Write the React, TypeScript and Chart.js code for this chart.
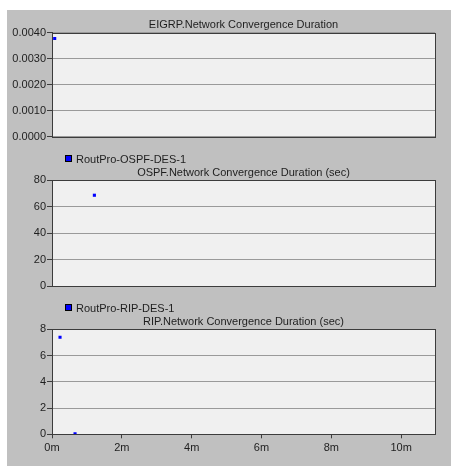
import React, { useEffect, useRef } from "react";
import { Chart, registerables } from "chart.js";

Chart.register(...registerables);

// ---- data ----
const timeMaxMinutes = 10.97;
const xTickValues = [0, 2, 4, 6, 8, 10];

const eigrpTitle = "EIGRP.Network Convergence Duration";
const eigrpTimes = [0.077];
const eigrpValues = [0.00377];
const eigrpYTicks = [0, 0.001, 0.002, 0.003, 0.004];

const ospfTitle = "OSPF.Network Convergence Duration (sec)";
const ospfLegend = "RoutPro-OSPF-DES-1";
const ospfTimes = [1.214];
const ospfValues = [68.5];
const ospfYTicks = [0, 20, 40, 60, 80];

const ripTitle = "RIP.Network Convergence Duration (sec)";
const ripLegend = "RoutPro-RIP-DES-1";
const ripTimes = [0.23, 0.66];
const ripValues = [7.39, 0.03];
const ripYTicks = [0, 2, 4, 6, 8];

const FONT = "'Liberation Sans', Arial, sans-serif";
const TEXT = "#1e1e1e";
const FRAME = "#3c3c3c";
const GRID = "#9a9a9a";
const PLOT_BG = "#f0f0f0";
const POINT = "#0000ff";

const framePlugin = {
  id: "frame",
  beforeDraw(chart: any) {
    const { ctx, chartArea: a } = chart;
    ctx.save();
    ctx.fillStyle = PLOT_BG;
    ctx.fillRect(a.left, a.top, a.right - a.left, a.bottom - a.top);
    ctx.restore();
  },
  afterDraw(chart: any) {
    const { ctx, chartArea: a } = chart;
    const o = chart.options.plugins.frame || {};
    ctx.save();
    ctx.strokeStyle = FRAME;
    ctx.lineWidth = 1;
    ctx.strokeRect(Math.round(a.left) + 0.5, Math.round(a.top) + 0.5, Math.round(a.right - a.left), Math.round(a.bottom - a.top));
    ctx.fillStyle = TEXT;
    ctx.font = `11px ${FONT}`;
    ctx.textBaseline = "alphabetic";
    if (o.title) {
      ctx.textAlign = "center";
      ctx.fillText(o.title, (a.left + a.right) / 2, a.top - 4.5);
    }
    if (o.legend) {
      const sx = Math.round(a.left) + 13;
      const sy = Math.round(a.top) - 25;
      ctx.fillStyle = POINT;
      ctx.fillRect(sx, sy, 7, 7);
      ctx.strokeStyle = "#000";
      ctx.strokeRect(sx + 0.5, sy + 0.5, 6, 6);
      ctx.fillStyle = TEXT;
      ctx.textAlign = "left";
      ctx.fillText(o.legend, sx + 11, a.top - 17.5);
    }
    ctx.restore();
  },
};

type Panel = {
  title: string;
  legend?: string;
  times: number[];
  values: number[];
  yTicks: number[];
  decimals: number;
  showX: boolean;
  padTop: number;
  padBottom: number;
};

function makeConfig(p: Panel): any {
  return {
    type: "scatter",
    data: {
      datasets: [
        {
          label: p.legend || p.title,
          data: p.times.map((t, i) => ({ x: t, y: p.values[i] })),
          pointStyle: "rect",
          pointRadius: 2.2,
          pointHoverRadius: 2.2,
          pointBorderWidth: 0,
          backgroundColor: POINT,
          borderColor: POINT,
          showLine: false,
        },
      ],
    },
    options: {
      animation: false,
      responsive: false,
      maintainAspectRatio: false,
      events: [],
      layout: { padding: { left: 0, right: 16, top: p.padTop, bottom: p.padBottom } },
      plugins: {
        legend: { display: false },
        title: { display: false },
        tooltip: { enabled: false },
        frame: { title: p.title, legend: p.legend },
      },
      scales: {
        x: {
          type: "linear",
          min: 0,
          max: timeMaxMinutes,
          display: p.showX,
          afterBuildTicks: (s: any) => {
            s.ticks = xTickValues.map((v) => ({ value: v }));
          },
          afterFit: (s: any) => {
            s.height = p.showX ? 20 : 0;
          },
          grid: {
            drawOnChartArea: false,
            drawTicks: true,
            tickLength: 4,
            tickColor: FRAME,
          },
          border: { display: true, color: FRAME },
          ticks: {
            padding: 3,
            color: TEXT,
            font: { family: FONT, size: 11 },
            maxRotation: 0,
            callback: (v: any) => `${v}m`,
          },
        },
        y: {
          type: "linear",
          min: p.yTicks[0],
          max: p.yTicks[p.yTicks.length - 1],
          afterBuildTicks: (s: any) => {
            s.ticks = p.yTicks.map((v) => ({ value: v }));
          },
          afterFit: (s: any) => {
            s.width = 52;
          },
          grid: {
            color: GRID,
            drawOnChartArea: true,
            drawTicks: true,
            tickLength: 5,
            tickColor: FRAME,
          },
          border: { display: true, color: FRAME },
          ticks: {
            padding: 1,
            color: TEXT,
            font: { family: FONT, size: 11 },
            callback: (v: any) => Number(v).toFixed(p.decimals),
          },
        },
      },
    },
    plugins: [framePlugin],
  };
}

function ChartCanvas({ panel, top, height }: { panel: Panel; top: number; height: number }) {
  const ref = useRef<HTMLCanvasElement | null>(null);
  useEffect(() => {
    if (!ref.current) return;
    const chart = new Chart(ref.current, makeConfig(panel));
    return () => chart.destroy();
  }, []);
  return (
    <canvas
      ref={ref}
      width={451}
      height={height}
      style={{ position: "absolute", left: 0, top, width: 451, height }}
    />
  );
}

const panels: { panel: Panel; top: number; height: number }[] = [
  {
    top: 0,
    height: 145,
    panel: {
      title: eigrpTitle,
      times: eigrpTimes,
      values: eigrpValues,
      yTicks: eigrpYTicks,
      decimals: 4,
      showX: false,
      padTop: 32.5,
      padBottom: 8.3,
    },
  },
  {
    top: 145,
    height: 150,
    panel: {
      title: ospfTitle,
      legend: ospfLegend,
      times: ospfTimes,
      values: ospfValues,
      yTicks: ospfYTicks,
      decimals: 0,
      showX: false,
      padTop: 35,
      padBottom: 9,
    },
  },
  {
    top: 295,
    height: 171,
    panel: {
      title: ripTitle,
      legend: ripLegend,
      times: ripTimes,
      values: ripValues,
      yTicks: ripYTicks,
      decimals: 0,
      showX: true,
      padTop: 34.3,
      padBottom: 11.7,
    },
  },
];

export default function App() {
  return (
    <div style={{ position: "absolute", left: 0, top: 0, width: 451, height: 466, background: "#ffffff", overflow: "hidden" }}>
      <div style={{ position: "absolute", left: 7, top: 10, width: 444, height: 456, background: "#c0c0c0" }} />
      {panels.map((p, i) => (
        <ChartCanvas key={i} panel={p.panel} top={p.top} height={p.height} />
      ))}
    </div>
  );
}
